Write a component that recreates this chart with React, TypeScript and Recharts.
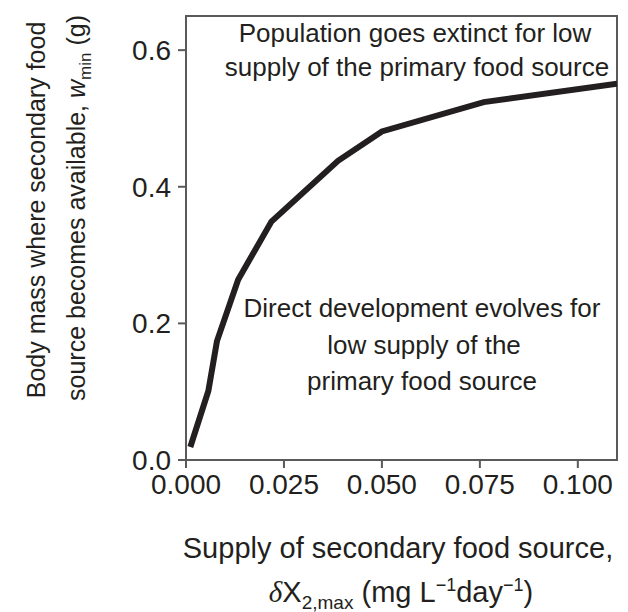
import React from "react";
import {
  LineChart,
  Line,
  XAxis,
  YAxis,
  ReferenceArea,
  Customized,
} from "recharts";

// Supply of secondary food source (mg L^-1 day^-1)
const supplyValues = [0.0011, 0.0057, 0.0079, 0.0133, 0.0218, 0.0388, 0.05, 0.076, 0.11];
// Body mass where secondary food source becomes available (g)
const wMinValues = [0.019, 0.101, 0.174, 0.264, 0.349, 0.438, 0.481, 0.524, 0.551];

const xTicks = [0, 0.025, 0.05, 0.075, 0.1];
const yTicks = [0, 0.2, 0.4, 0.6];

const topNote = ["Population goes extinct for low", "supply of the primary food source"];
const bottomNote = ["Direct development evolves for", "low supply of the", "primary food source"];

const data = supplyValues.map((x, i) => ({ x, w: wMinValues[i] }));

const FONT = "'Liberation Sans', Arial, Helvetica, sans-serif";
const INK = "#231f20";
const FRAME = "#5a5a5a";

const Texts = () => (
  <g fontFamily={FONT} fill={INK}>
    <text x={415} y={42} fontSize={26} textAnchor="middle">{topNote[0]}</text>
    <text x={417} y={76} fontSize={26} textAnchor="middle">{topNote[1]}</text>
    <text x={422} y={317} fontSize={26} textAnchor="middle">{bottomNote[0]}</text>
    <text x={424} y={354} fontSize={26} textAnchor="middle">{bottomNote[1]}</text>
    <text x={422} y={390} fontSize={26} textAnchor="middle">{bottomNote[2]}</text>

    <text x={398} y={558} fontSize={29} textAnchor="middle">Supply of secondary food source,</text>
    <text x={401} y={602} fontSize={29} textAnchor="middle">
      <tspan fontFamily="'Liberation Serif', 'Times New Roman', serif" fontStyle="italic">δ</tspan>
      <tspan>X</tspan>
      <tspan fontSize={19} dy={7}>2,max</tspan>
      <tspan dy={-7}> (mg L</tspan>
      <tspan fontSize={18} dy={-11}>−1</tspan>
      <tspan dy={11}>day</tspan>
      <tspan fontSize={18} dy={-11}>−1</tspan>
      <tspan dy={11}>)</tspan>
    </text>

    <text transform="translate(45,210) rotate(-90)" fontSize={25} textAnchor="middle">
      Body mass where secondary food
    </text>
    <text transform="translate(85,208) rotate(-90)" fontSize={25} textAnchor="middle">
      <tspan>source becomes available, </tspan>
      <tspan fontStyle="italic">w</tspan>
      <tspan fontSize={17} dy={6}>min</tspan>
      <tspan dy={-6}> (g)</tspan>
    </text>
  </g>
);

export default function App() {
  return (
    <div style={{ position: "absolute", left: 0, top: 0, width: 628, height: 612, background: "#fff" }}>
      <LineChart
        width={628}
        height={612}
        data={data}
        margin={{ top: 16, right: 11, bottom: 0, left: 0 }}
      >
        <XAxis
          dataKey="x"
          type="number"
          domain={[0, 0.11]}
          ticks={xTicks}
          allowDataOverflow
          tickFormatter={(v: number) => v.toFixed(3)}
          height={152}
          tickSize={8}
          tickMargin={6}
          axisLine={{ stroke: FRAME, strokeWidth: 2 }}
          tickLine={{ stroke: FRAME, strokeWidth: 2 }}
          tick={{ fill: INK, fontSize: 28, fontFamily: FONT }}
        />
        <YAxis
          type="number"
          domain={[0, 0.65]}
          ticks={yTicks}
          allowDataOverflow
          tickFormatter={(v: number) => v.toFixed(1)}
          width={186}
          tickSize={8}
          tickMargin={7}
          axisLine={{ stroke: FRAME, strokeWidth: 2 }}
          tickLine={{ stroke: FRAME, strokeWidth: 2 }}
          tick={{ fill: INK, fontSize: 28, fontFamily: FONT }}
        />
        <ReferenceArea x1={0} x2={0.11} y1={0} y2={0.65} fill="none" stroke={FRAME} strokeWidth={2} />
        <Line
          dataKey="w"
          type="linear"
          stroke={INK}
          strokeWidth={6}
          dot={false}
          isAnimationActive={false}
        />
        <Customized component={Texts} />
      </LineChart>
    </div>
  );
}
